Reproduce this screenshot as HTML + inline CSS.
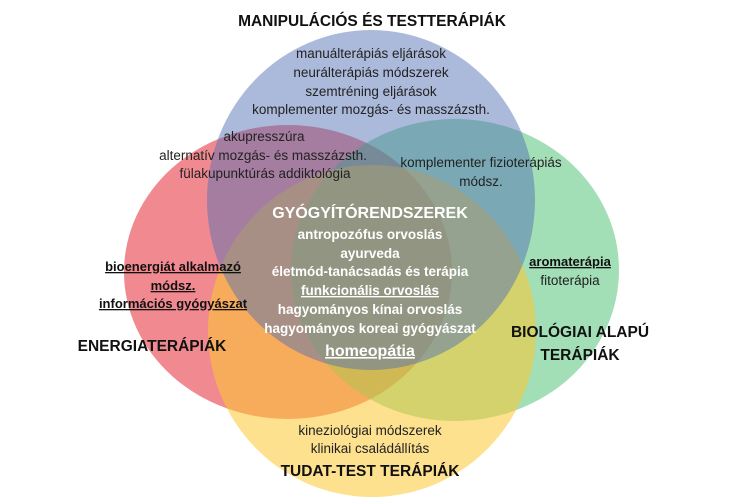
<!DOCTYPE html>
<html><head><meta charset="utf-8"><style>
html,body{margin:0;padding:0;background:#fff;}
svg{display:block;}
text{font-family:"Liberation Sans",sans-serif;}
.n{font-size:13.5px;fill:#222;}
.t{font-size:15.5px;font-weight:bold;fill:#111;}
.w{font-size:13.5px;font-weight:bold;fill:#fff;}
.u{font-size:13px;font-weight:bold;fill:#111;text-decoration:underline;}
</style></head><body>
<svg width="750" height="501" viewBox="0 0 750 501" xmlns="http://www.w3.org/2000/svg">
<ellipse cx="288" cy="272" rx="164" ry="147" fill="rgb(232,60,70)" fill-opacity="0.6"/>
<ellipse cx="455" cy="270" rx="164" ry="151" fill="rgb(70,190,110)" fill-opacity="0.5"/>
<ellipse cx="372" cy="331" rx="164" ry="166" fill="rgb(252,200,50)" fill-opacity="0.55"/>
<ellipse cx="371" cy="200" rx="164" ry="170" fill="rgb(80,110,180)" fill-opacity="0.48"/>
<g text-anchor="middle">
<text class="t" x="372" y="26">MANIPULÁCIÓS ÉS TESTTERÁPIÁK</text>
<text class="n" x="371" y="58">manuálterápiás eljárások</text>
<text class="n" x="371" y="77">neurálterápiás módszerek</text>
<text class="n" x="371" y="96">szemtréning eljárások</text>
<text class="n" x="371" y="114">komplementer mozgás- és masszázsth.</text>
<text class="n" x="264" y="141">akupresszúra</text>
<text class="n" x="263" y="160">alternatív mozgás- és masszázsth.</text>
<text class="n" x="265" y="178">fülakupunktúrás addiktológia</text>
<text class="n" x="481" y="167">komplementer fizioterápiás</text>
<text class="n" x="481" y="186">módsz.</text>
<text class="w" x="370" y="218" style="font-size:16px">GYÓGYÍTÓRENDSZEREK</text>
<text class="w" x="370" y="239">antropozófus orvoslás</text>
<text class="w" x="370" y="258">ayurveda</text>
<text class="w" x="370" y="276">életmód-tanácsadás és terápia</text>
<text class="w" x="370" y="295" text-decoration="underline">funkcionális orvoslás</text>
<text class="w" x="370" y="314">hagyományos kínai orvoslás</text>
<text class="w" x="370" y="333">hagyományos koreai gyógyászat</text>
<text class="w" x="370" y="356" style="font-size:16px" text-decoration="underline">homeopátia</text>
<text class="u" x="173" y="271">bioenergiát alkalmazó</text>
<text class="u" x="173" y="290">módsz.</text>
<text class="u" x="173" y="308">információs gyógyászat</text>
<text class="t" x="152" y="351">ENERGIATERÁPIÁK</text>
<text class="u" x="570" y="266">aromaterápia</text>
<text class="n" x="570" y="285">fitoterápia</text>
<text class="t" x="580" y="337">BIOLÓGIAI ALAPÚ</text>
<text class="t" x="580" y="360">TERÁPIÁK</text>
<text class="n" x="370" y="435">kineziológiai módszerek</text>
<text class="n" x="370" y="453">klinikai családállítás</text>
<text class="t" x="370" y="476">TUDAT-TEST TERÁPIÁK</text>
</g>
</svg>
</body></html>
